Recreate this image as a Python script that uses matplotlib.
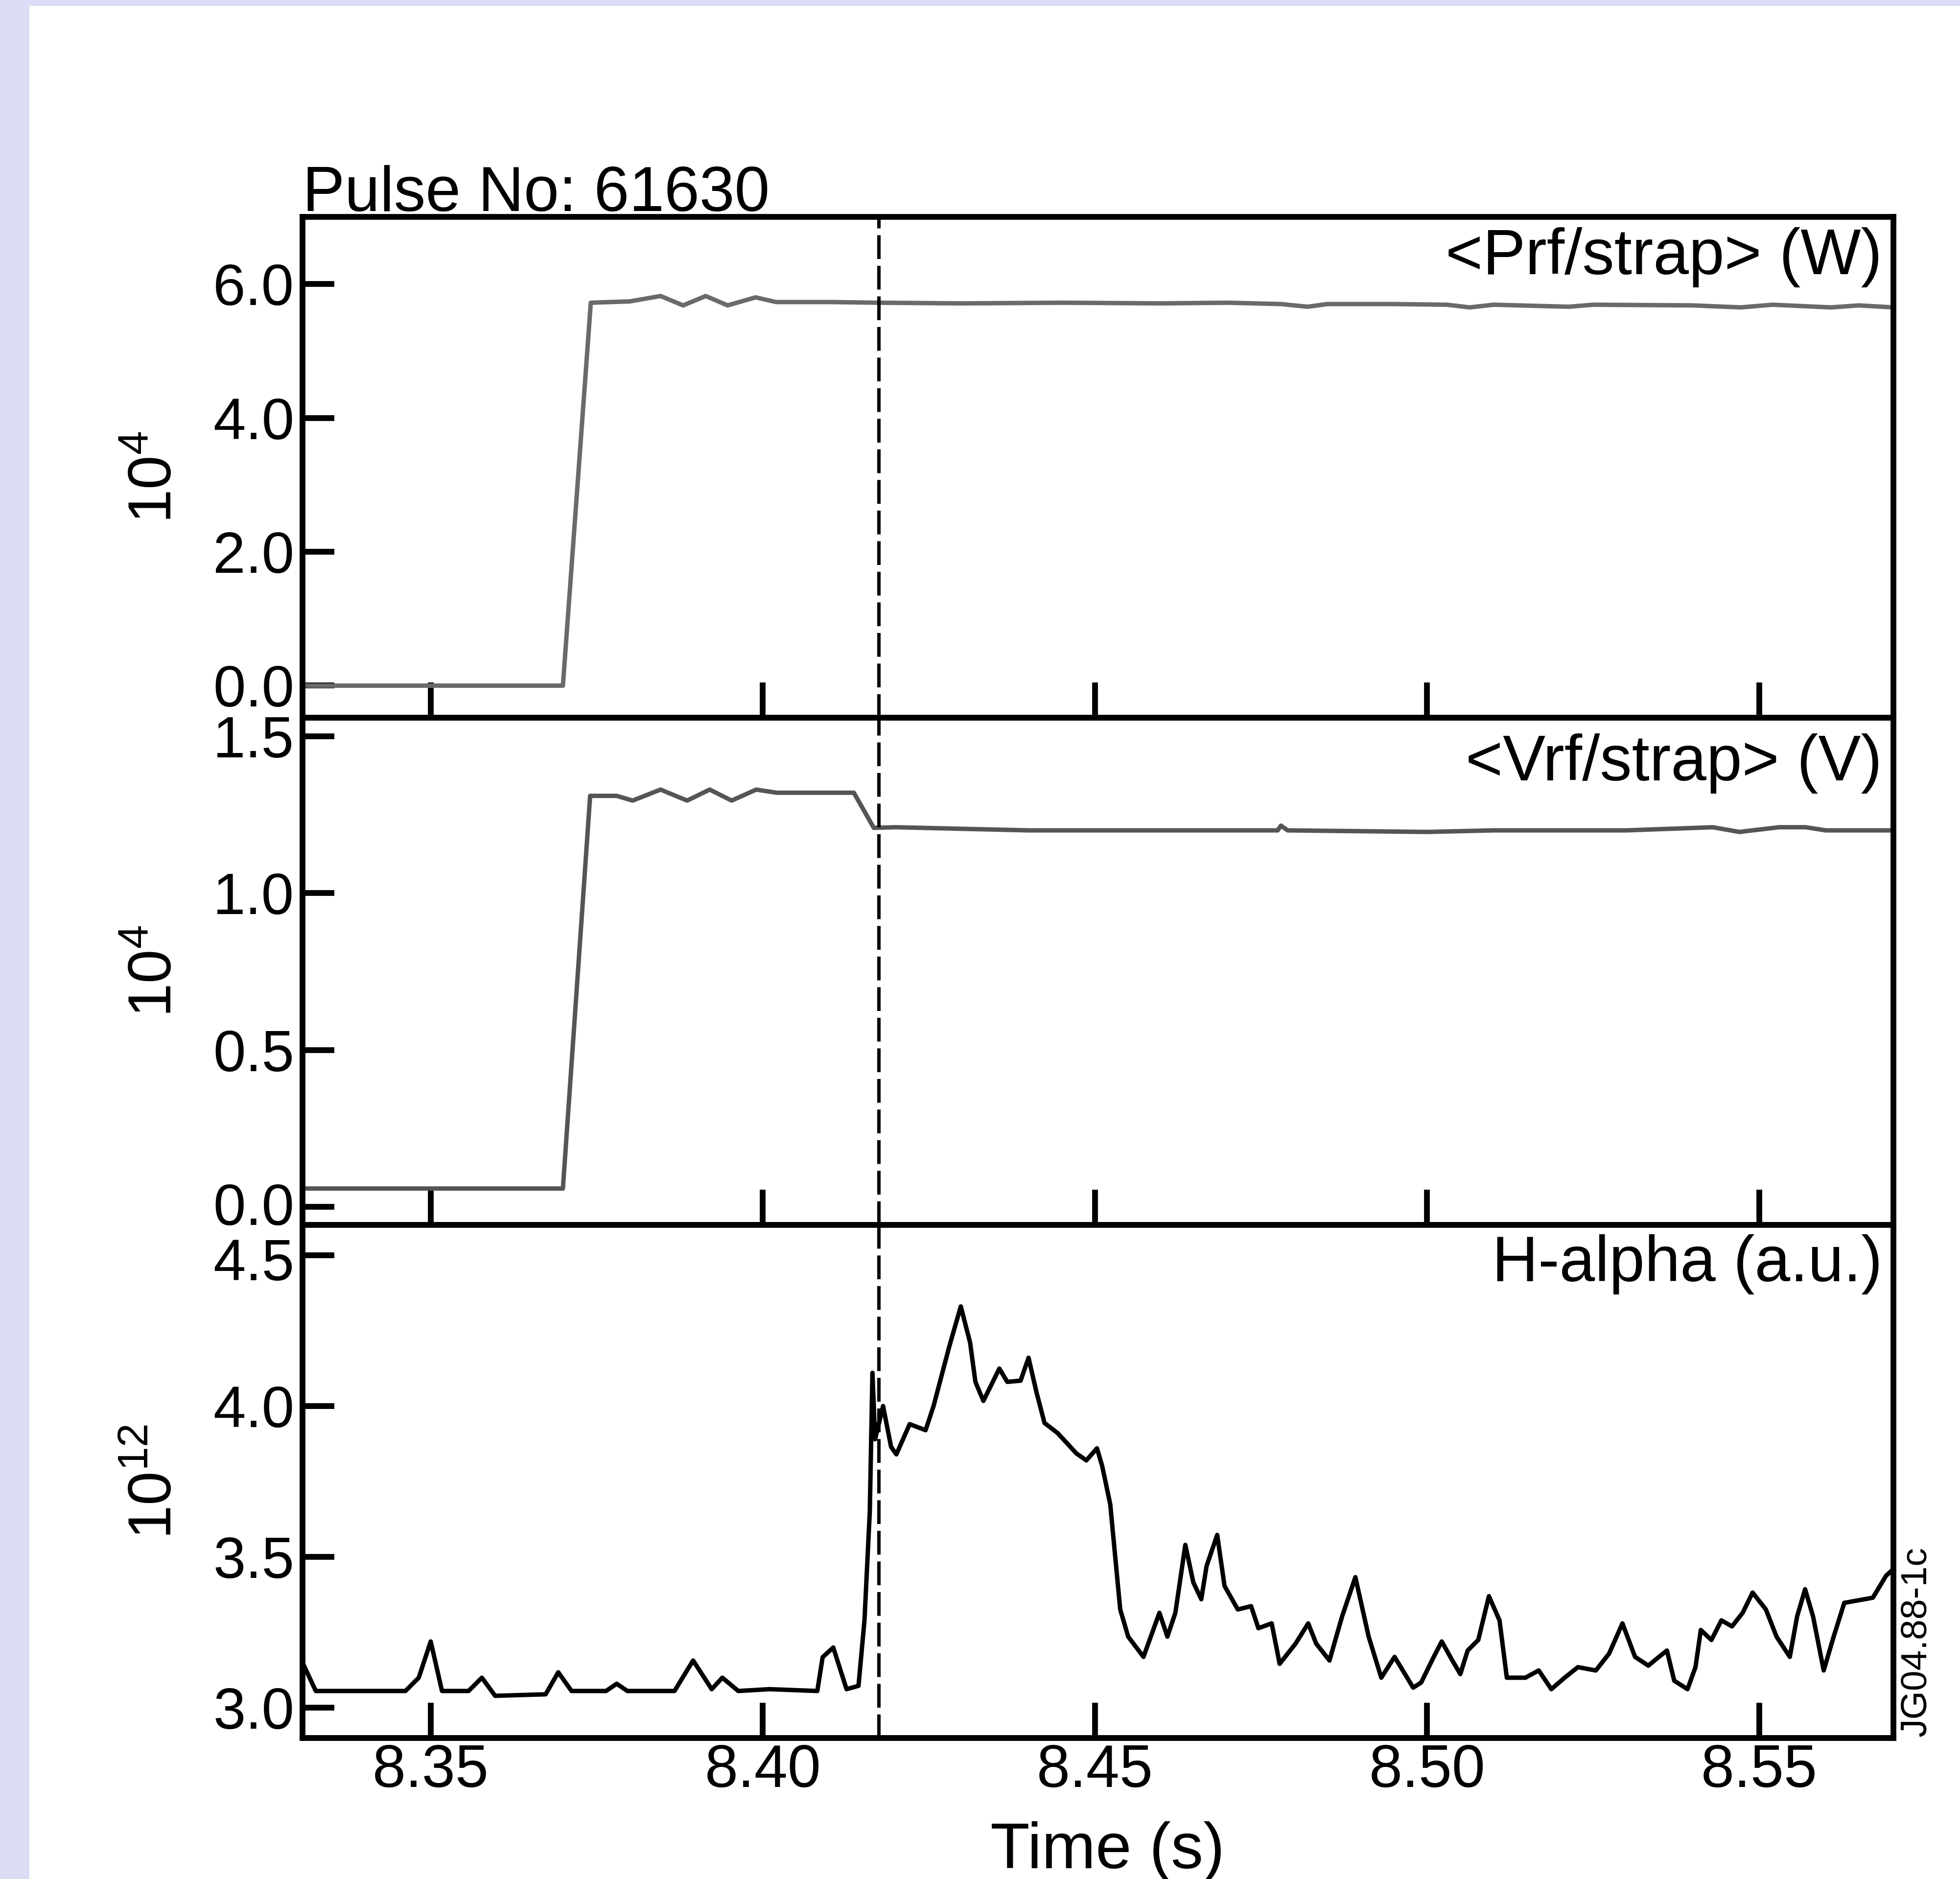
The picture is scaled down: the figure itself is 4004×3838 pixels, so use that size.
import matplotlib.pyplot as plt
from matplotlib.patches import Rectangle
from matplotlib.ticker import FormatStrFormatter
from matplotlib.transforms import ScaledTranslation

plt.rcParams['font.family'] = ['Liberation Sans', 'DejaVu Sans']
plt.rcParams['mathtext.fontset'] = 'custom'
plt.rcParams['mathtext.rm'] = 'Liberation Sans'

# <Prf/strap> (W), units of 1e4
t_prf = [8.3307, 8.3699, 8.3741, 8.3800, 8.3846, 8.3880, 8.3914, 8.3947, 8.3989,
         8.4020, 8.4100, 8.4175, 8.4300, 8.4450, 8.4600, 8.4700, 8.4780, 8.4820,
         8.4850, 8.4950, 8.5030, 8.5064, 8.5100, 8.5213, 8.5250, 8.5400, 8.5472,
         8.5520, 8.5608, 8.5650, 8.5702]
prf = [0.0, 0.0, 5.72, 5.74, 5.82, 5.68, 5.82, 5.68, 5.80,
       5.73, 5.73, 5.72, 5.71, 5.72, 5.71, 5.72, 5.70, 5.66,
       5.70, 5.70, 5.69, 5.65, 5.69, 5.66, 5.69, 5.68, 5.65,
       5.69, 5.65, 5.68, 5.65]

# <Vrf/strap> (V), units of 1e4
t_vrf = [8.3307, 8.3699, 8.3740, 8.3780, 8.3804, 8.3846, 8.3886, 8.3920, 8.3953,
         8.3990, 8.4021, 8.4137, 8.4167, 8.4200, 8.4300, 8.4400, 8.4600, 8.4775,
         8.4780, 8.4790, 8.5000, 8.5100, 8.5300, 8.5430, 8.5470, 8.5530, 8.5570,
         8.5600, 8.5702]
vrf = [0.058, 0.058, 1.31, 1.31, 1.295, 1.33, 1.295, 1.33, 1.295,
       1.33, 1.32, 1.32, 1.208, 1.21, 1.205, 1.20, 1.20, 1.20,
       1.215, 1.20, 1.195, 1.20, 1.20, 1.21, 1.195, 1.21, 1.21,
       1.20, 1.20]

# H-alpha (a.u.), units of 1e12
t_ha = [8.3307, 8.3327, 8.3462, 8.3482, 8.3500, 8.3517, 8.3557, 8.3577, 8.3597,
        8.3673, 8.3692, 8.3712, 8.3764, 8.3780, 8.3796, 8.3867, 8.3895, 8.3923,
        8.3939, 8.3963, 8.4010, 8.4082, 8.4090, 8.4106, 8.4126, 8.4144, 8.4153,
        8.4161, 8.4165, 8.4169, 8.4181, 8.4193, 8.4201, 8.4221, 8.4245, 8.4257,
        8.4281, 8.4298, 8.4312, 8.4320, 8.4332, 8.4356, 8.4368, 8.4388, 8.4400,
        8.4412, 8.4424, 8.4444, 8.4472, 8.4487, 8.4503, 8.4511, 8.4523, 8.4538,
        8.4550, 8.4573, 8.4597, 8.4609, 8.4621, 8.4636, 8.4648, 8.4660, 8.4668,
        8.4684, 8.4695, 8.4715, 8.4735, 8.4746, 8.4766, 8.4778, 8.4802, 8.4821,
        8.4833, 8.4853, 8.4872, 8.4892, 8.4912, 8.4931, 8.4951, 8.4979, 8.4991,
        8.5010, 8.5022, 8.5038, 8.5050, 8.5061, 8.5077, 8.5093, 8.5109, 8.5120,
        8.5148, 8.5168, 8.5187, 8.5207, 8.5227, 8.5254, 8.5274, 8.5294, 8.5313,
        8.5333, 8.5349, 8.5361, 8.5372, 8.5392, 8.5404, 8.5412, 8.5428, 8.5443,
        8.5459, 8.5475, 8.5490, 8.5510, 8.5526, 8.5546, 8.5557, 8.5569, 8.5581,
        8.5597, 8.5612, 8.5628, 8.5671, 8.5691, 8.5702]
ha = [3.15, 3.056, 3.056, 3.10, 3.22, 3.056, 3.056, 3.10, 3.04,
      3.045, 3.118, 3.056, 3.056, 3.08, 3.056, 3.056, 3.157, 3.062,
      3.10, 3.056, 3.062, 3.056, 3.168, 3.20, 3.062, 3.073, 3.29,
      3.65, 4.11, 3.89, 4.00, 3.865, 3.84, 3.94, 3.92, 4.00,
      4.20, 4.33, 4.21, 4.08, 4.017, 4.124, 4.08, 4.084, 4.16,
      4.045, 3.944, 3.91, 3.843, 3.82, 3.86, 3.80, 3.674, 3.326,
      3.236, 3.169, 3.315, 3.236, 3.315, 3.54, 3.416, 3.36, 3.47,
      3.573, 3.404, 3.326, 3.337, 3.264, 3.28, 3.146, 3.213, 3.28,
      3.213, 3.157, 3.303, 3.433, 3.236, 3.10, 3.169, 3.067, 3.084,
      3.169, 3.22, 3.157, 3.112, 3.19, 3.225, 3.37, 3.29, 3.10,
      3.10, 3.124, 3.062, 3.10, 3.135, 3.124, 3.18, 3.28, 3.169,
      3.14, 3.169, 3.19, 3.09, 3.062, 3.135, 3.258, 3.225, 3.29,
      3.27, 3.315, 3.382, 3.326, 3.236, 3.169, 3.303, 3.393, 3.303,
      3.124, 3.236, 3.348, 3.365, 3.438, 3.46]

t_marker = 8.4174
xticks = [8.35, 8.40, 8.45, 8.50, 8.55]
yticks_prf = [0.0, 2.0, 4.0, 6.0]
yticks_vrf = [0.0, 0.5, 1.0, 1.5]
yticks_ha = [3.0, 3.5, 4.0, 4.5]

fig = plt.figure(figsize=(40.05, 38.38), dpi=100)
fig.patch.set_facecolor('#dcdcf4')
fig.add_artist(Rectangle((60 / 4005, 0), 1 - 60 / 4005, 1 - 12 / 3838,
                         transform=fig.transFigure, facecolor='white',
                         edgecolor='none', zorder=-5))

L, W = 0.1543, 0.8115
ax1 = fig.add_axes([L, 0.6180, W, 0.2665])
ax2 = fig.add_axes([L, 0.3481, W, 0.2699])
ax3 = fig.add_axes([L, 0.0750, W, 0.2731])

ax1.plot(t_prf, prf, color='#6a6a6a', lw=6.5)
ax2.plot(t_vrf, vrf, color='#555555', lw=6.5)
ax3.plot(t_ha, ha, color='black', lw=6.5)

ax1.set_ylim(-0.48, 7.0)
ax2.set_ylim(-0.058, 1.559)
ax3.set_ylim(2.90, 4.60)
ax1.set_yticks(yticks_prf)
ax2.set_yticks(yticks_vrf)
ax3.set_yticks(yticks_ha)

for ax in [ax1, ax2, ax3]:
    ax.set_xlim(8.3307, 8.5702)
    ax.set_xticks(xticks)
    ax.axvline(t_marker, color='black', lw=5, dashes=(7, 2))
    for s in ax.spines.values():
        s.set_linewidth(8.5)
    ax.tick_params(axis='y', direction='in', length=47, width=8.5,
                   labelsize=86, pad=12)
    ax.tick_params(axis='x', direction='in', length=52, width=8.5,
                   labelsize=88, pad=8)
    ax.yaxis.set_major_formatter(FormatStrFormatter('%.1f'))
    ax.xaxis.set_major_formatter(FormatStrFormatter('%.2f'))

ax1.tick_params(axis='x', labelbottom=False)
ax2.tick_params(axis='x', labelbottom=False)

# nudge the two labels that meet at the middle/bottom boundary apart a little
fig.canvas.draw()
lab = ax2.get_yticklabels()[0]
lab.set_transform(lab.get_transform() + ScaledTranslation(0, 6 / 100, fig.dpi_scale_trans))
lab = ax3.get_yticklabels()[-1]
lab.set_transform(lab.get_transform() + ScaledTranslation(0, -8 / 100, fig.dpi_scale_trans))

ax1.set_ylabel(r'$\mathregular{10^{4}}$', fontsize=90)
ax2.set_ylabel(r'$\mathregular{10^{4}}$', fontsize=90)
ax3.set_ylabel(r'$\mathregular{10^{12}}$', fontsize=90)
ax1.yaxis.set_label_coords(-0.0745, 0.48)
ax2.yaxis.set_label_coords(-0.0745, 0.5)
ax3.yaxis.set_label_coords(-0.0745, 0.5)

ax1.text(0.993, 0.98, '<Prf/strap> (W)', transform=ax1.transAxes,
         ha='right', va='top', fontsize=94)
ax2.text(0.993, 0.969, '<Vrf/strap> (V)', transform=ax2.transAxes,
         ha='right', va='top', fontsize=94)
ax3.text(0.993, 0.982, 'H-alpha (a.u.)', transform=ax3.transAxes,
         ha='right', va='top', fontsize=94)

ax1.text(0.0, 1.012, 'Pulse No: 61630', transform=ax1.transAxes,
         ha='left', va='baseline', fontsize=93)

ax3.set_xlabel('Time (s)', fontsize=95)
ax3.xaxis.set_label_coords(0.506, -0.162)

fig.text(3915 / 4005, 1 - 3547 / 3838, 'JG04.88-1c', rotation=90,
         ha='center', va='bottom', fontsize=54)

fig.savefig('out.png', dpi=100, facecolor=fig.get_facecolor())
